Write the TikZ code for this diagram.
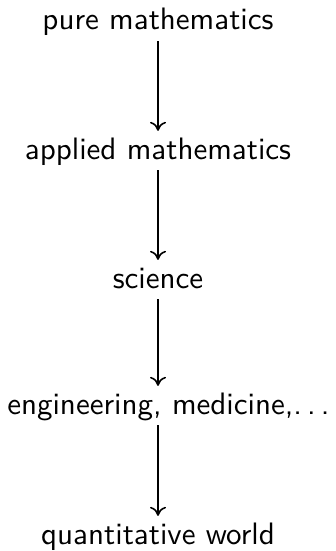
\documentclass[tikz,border=0pt]{standalone}
\usetikzlibrary{arrows.meta}
\newcommand\bigtxt[1]{\scalebox{3.1}{\fontsize{10}{12}\selectfont\sffamily #1}}
\newcommand\mydots{.\kern0.166em.\kern0.166em.\kern0.166em}
\begin{document}
\begin{tikzpicture}[x=1pt,y=1pt,
  lbl/.style={text height=20pt, text depth=6pt, inner xsep=0pt, inner ysep=5pt, anchor=base},
  flow/.style={line width=1.6pt, -{Computer Modern Rightarrow[length=9pt,width=16pt]}, shorten >=3pt}]
\useasboundingbox (0,0) rectangle (335,-551);
\node[lbl] (a) at (158,-30) {\bigtxt{pure mathematics}};
\node[lbl] (b) at (158,-159) {\bigtxt{applied mathematics}};
\node[lbl] (c) at (158,-288) {\bigtxt{science}};
\node[lbl] (d) at (171,-414) {\bigtxt{engineering, medicine,\mydots}};
\node[lbl] (e) at (158,-544) {\bigtxt{quantitative world}};
\draw[flow] (a) -- (b);
\draw[flow] (b) -- (c);
\draw[flow] (c) -- (d.north -| c.north);
\draw[flow] (d.south -| e.north) -- (e);
\end{tikzpicture}
\end{document}
